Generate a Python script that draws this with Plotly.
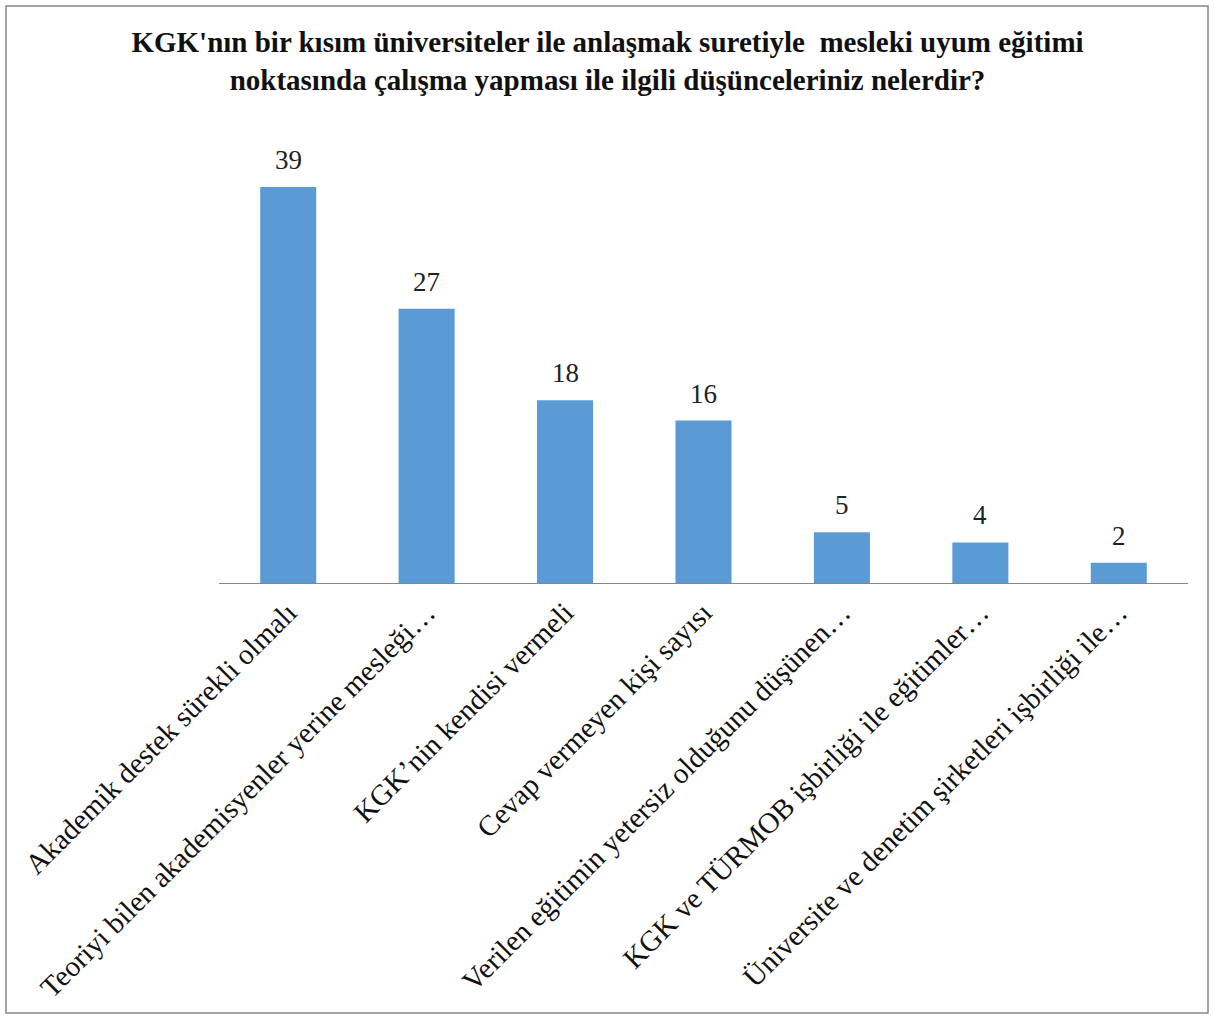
import plotly.graph_objects as go

categories = [
    "Akademik destek sürekli olmalı",
    "Teoriyi bilen akademisyenler yerine mesleği…",
    "KGK’nin kendisi vermeli",
    "Cevap vermeyen kişi sayısı",
    "Verilen eğitimin yetersiz olduğunu düşünen…",
    "KGK ve TÜRMOB işbirliği ile eğitimler…",
    "Üniversite ve denetim şirketleri işbirliği ile…",
]
values = [39, 27, 18, 16, 5, 4, 2]

title_text = ("KGK'nın bir kısım üniversiteler ile anlaşmak suretiyle  mesleki uyum eğitimi"
              "<br>noktasında çalışma yapması ile ilgili düşünceleriniz nelerdir?")

W, H = 1215, 1016
L, R, T, B = 219, 27, 126, 433

fig = go.Figure(go.Bar(
    x=categories, y=values,
    marker=dict(color="#5B9BD5", line=dict(width=0)),
))

for c, v in zip(categories, values):
    fig.add_annotation(x=c, y=v, text=str(v), showarrow=False,
                       yanchor="middle", yshift=27,
                       font=dict(family="Liberation Serif", size=27, color="#222"))

fig.update_layout(
    width=W, height=H,
    margin=dict(l=L, r=R, t=T, b=B),
    paper_bgcolor="white", plot_bgcolor="white",
    bargap=0.595,
    showlegend=False,
    title=dict(text=title_text, x=0.5, xanchor="center", y=1 - 52 / H, yanchor="top",
               font=dict(family="Liberation Serif", size=29, color="#111", weight="bold")),
    xaxis=dict(showline=True, linecolor="#868686", linewidth=1, ticks="",
               tickangle=-45, tickfont=dict(family="Liberation Serif", size=29, color="#111"),
               showgrid=False),
    yaxis=dict(range=[0, 45], visible=False, showgrid=False),
    shapes=[dict(type="rect", xref="paper", yref="paper",
                 x0=-(L - 6) / (W - L - R), x1=1 + (R - 7) / (W - L - R),
                 y0=-(B - 3) / (H - T - B), y1=1 + (T - 6) / (H - T - B),
                 line=dict(color="#868686", width=1.5))],
)

fig.write_html("out.html")
